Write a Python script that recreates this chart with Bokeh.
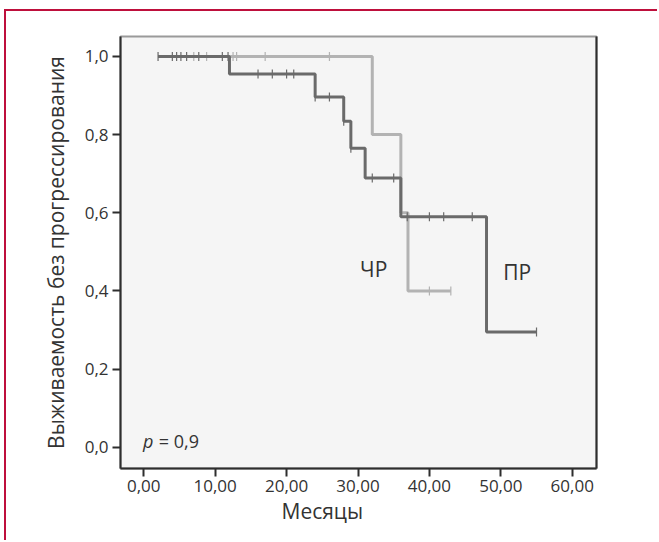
import numpy as np
from bokeh.plotting import figure
from bokeh.models import (ColumnDataSource, FixedTicker, CustomJSTickFormatter,
                          LinearAxis, Title, Range1d)
from bokeh.core.properties import value
from bokeh.embed import file_html
from bokeh.resources import INLINE

# ---- data ----
# ПР (dark curve)
pr_start = 2.0
pr_event_times = [12, 24, 28, 29, 31, 36, 48]
pr_event_surv = [0.955, 0.896, 0.834, 0.765, 0.689, 0.590, 0.295]
pr_end = 55.0
pr_cens_times = [2, 4, 4.6, 5.2, 6, 7.7, 11, 11.8, 16, 18, 20, 21, 24, 26, 28, 29,
                 32, 35, 36.9, 40, 42, 46, 55]
# ЧР (light curve)
chr_start = 2.0
chr_event_times = [32, 36, 37]
chr_event_surv = [0.8, 0.6, 0.4]
chr_end = 43.0
chr_cens_times = [7, 8.8, 12.5, 13, 17, 26, 40, 43]

x_ticks = [0, 10, 20, 30, 40, 50, 60]
y_ticks = [0.0, 0.2, 0.4, 0.6, 0.8, 1.0]

DARK = "#6a6a6a"
LIGHT = "#b3b3b3"
AXIS = "#2e2e2e"
TXT = "#333333"
FONT = "Open Sans"


def step_path(start, times, surv, end):
    xs, ys = [start], [1.0]
    s = 1.0
    for t, v in zip(times, surv):
        xs += [t, t]
        ys += [s, v]
        s = v
    xs.append(end)
    ys.append(s)
    return xs, ys


def surv_at(times, surv, t):
    s = 1.0
    for et, v in zip(times, surv):
        if t >= et:
            s = v
    return s


W, H = 653, 531
p = figure(width=W, height=H, output_backend="svg", toolbar_location=None,
           x_range=Range1d(-3.26, 63.4), y_range=Range1d(-0.0545, 1.051),
           x_axis_location=None, y_axis_location=None,
           min_border_left=114, min_border_right=63, min_border_top=25,
           min_border_bottom=74)
p.styles = {"margin-left": "4px", "margin-top": "9px",
            "border-left": "2px solid #be0f3c", "border-top": "2px solid #be0f3c"}
p.background_fill_color = "#f5f5f5"
p.border_fill_color = "white"
p.grid.visible = False
p.outline_line_color = "#9a9a9a"
p.outline_line_width = 2

fmt_x = CustomJSTickFormatter(code="return tick.toFixed(2).replace('.', ',');")
fmt_y = CustomJSTickFormatter(code="return tick.toFixed(1).replace('.', ',');")

xaxis = LinearAxis(ticker=FixedTicker(ticks=x_ticks), formatter=fmt_x)
yaxis = LinearAxis(ticker=FixedTicker(ticks=y_ticks), formatter=fmt_y,
                   axis_label="Выживаемость без прогрессирования")
for ax in (xaxis, yaxis):
    ax.axis_line_color = AXIS
    ax.axis_line_width = 2
    ax.major_tick_line_color = AXIS
    ax.major_tick_line_width = 2
    ax.major_tick_out = 8
    ax.major_tick_in = 0
    ax.minor_tick_line_color = None
    ax.major_label_text_font = FONT
    ax.major_label_text_font_size = "17px"
    ax.major_label_text_color = TXT
xaxis.major_label_standoff = 3
yaxis.major_label_standoff = 4
yaxis.axis_label_text_font = FONT
yaxis.axis_label_text_font_size = "21px"
yaxis.axis_label_text_font_style = "normal"
yaxis.axis_label_text_color = TXT
yaxis.axis_label_standoff = 12
p.add_layout(xaxis, "below")
p.add_layout(yaxis, "left")

raxis = LinearAxis(ticker=FixedTicker(ticks=[]), axis_line_color=AXIS,
                   axis_line_width=2, major_label_text_font_size="0px",
                   minor_tick_line_color=None, major_tick_line_color=None)
p.add_layout(raxis, "right")

xt = Title(text="Месяцы", align="left", offset=161, text_font=FONT,
           text_font_size="21px", text_font_style="normal", text_color=TXT,
           standoff=0)
p.add_layout(xt, "below")

# curves (light first, dark on top)
cx, cy = step_path(chr_start, chr_event_times, chr_event_surv, chr_end)
p.line(cx, cy, line_color=LIGHT, line_width=3)
csrc = ColumnDataSource(dict(x=chr_cens_times,
                             y=[surv_at(chr_event_times, chr_event_surv, t) for t in chr_cens_times]))
p.scatter("x", "y", source=csrc, marker="dash", angle=np.pi / 2, size=9,
          line_color=LIGHT, line_width=1.2)

dx, dy = step_path(pr_start, pr_event_times, pr_event_surv, pr_end)
p.line(dx, dy, line_color=DARK, line_width=3)
dsrc = ColumnDataSource(dict(x=pr_cens_times,
                             y=[surv_at(pr_event_times, pr_event_surv, t) for t in pr_cens_times]))
p.scatter("x", "y", source=dsrc, marker="dash", angle=np.pi / 2, size=9,
          line_color=DARK, line_width=1.2)

# labels
p.text(x=[32.2], y=[0.455], text=["ЧР"], text_font=value(FONT), text_font_size="21px",
       text_color=TXT, text_align="center", text_baseline="middle")
p.text(x=[52.3], y=[0.449], text=["ПР"], text_font=value(FONT), text_font_size="21px",
       text_color=TXT, text_align="center", text_baseline="middle")
p.text(x=[-0.1], y=[0.015], text=["p"], text_font=value(FONT), text_font_size="18px",
       text_font_style="italic", text_color=TXT, text_align="left",
       text_baseline="alphabetic")
p.text(x=[2.1], y=[0.015], text=["= 0,9"], text_font=value(FONT), text_font_size="18px",
       text_color=TXT, text_align="left", text_baseline="alphabetic")

open("out.html", "w").write(file_html(p, INLINE))
